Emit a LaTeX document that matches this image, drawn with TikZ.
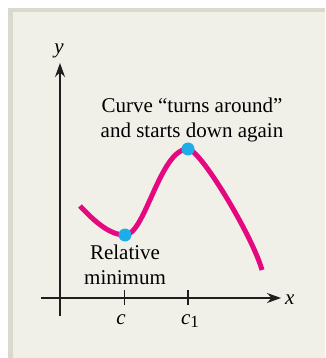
\documentclass[tikz,border=0pt]{standalone}
\usepackage{fontspec}
\setmainfont{Liberation Serif}
\newfontfamily\figserif{Liberation Serif}
\usetikzlibrary{arrows.meta}
\definecolor{panel}{HTML}{F1F0E8}
\definecolor{band}{HTML}{D9D9CD}
\definecolor{curvecol}{HTML}{E5097F}
\definecolor{dotcol}{HTML}{1DADE8}
\definecolor{axiscol}{HTML}{1E1E1E}
\tikzset{
  axis/.style={draw=axiscol, line width=1.4pt},
  axisarrow/.style={-{Stealth[length=14pt,width=10pt]}},
  tick/.style={draw=axiscol, line width=1.4pt},
  label/.style={font=\figserif\fontsize{21}{25}\selectfont, inner sep=0pt, align=center},
  axlabel/.style={font=\figserif\fontsize{21}{25}\selectfont\itshape, inner sep=0pt},
  fcurve/.style={draw=curvecol, line width=5pt},
  dot/.style={circle, fill=dotcol, inner sep=0pt, minimum size=13pt},
}
\begin{document}
\begin{tikzpicture}[x=1pt,y=-1pt]
\useasboundingbox (0,0) rectangle (325,358);
\fill[white] (0,0) rectangle (325,358);
\fill[band] (8,8) rectangle (325,358);
\fill[panel] (12.5,12.5) rectangle (325,358);
% axes
\coordinate (ybot) at (60,316);
\coordinate (ytop) at (60,63);
\coordinate (xl) at (41,298);
\coordinate (xr) at (281,298);
\draw[axis,axisarrow] (ybot) -- (ytop);
\draw[axis,axisarrow] (xl) -- (xr);
\node[axlabel, anchor=base] (ylab) at (59,54) {y};
\node[axlabel, anchor=base west] (xlab) at (285,304) {x};
% ticks
\coordinate (c) at (124.5,298);
\coordinate (cone) at (188,298);
\draw[tick] ([yshift=-7pt]c) -- ([yshift=8pt]c);
\draw[tick] ([yshift=-7pt]cone) -- ([yshift=8pt]cone);
\node[axlabel, anchor=base] (clab) at (121,324) {c};
\node[axlabel, anchor=base] (c1lab) at (190,324) {c\raisebox{-0.35ex}{\upshape\fontsize{17}{20}\selectfont 1}};
% curve
\coordinate (s) at (80,206);
\coordinate (mn) at (125,235);
\coordinate (mx) at (188,149);
\coordinate (e) at (262,270);
\draw[fcurve] (s) .. controls (95,222) and (110,235) .. (mn)
  .. controls (145,235) and (160,149) .. (mx)
  .. controls (200,149) and (252,235) .. (e);
\node[dot] (mindot) at (mn) {};
\node[dot] (maxdot) at (mx) {};
% labels
\node[label] (turn) at (192,119.5) {Curve “turns around”\\and starts down again};
\node[label] (rel) at (125,265.3) {Relative\\minimum};
\end{tikzpicture}
\end{document}
